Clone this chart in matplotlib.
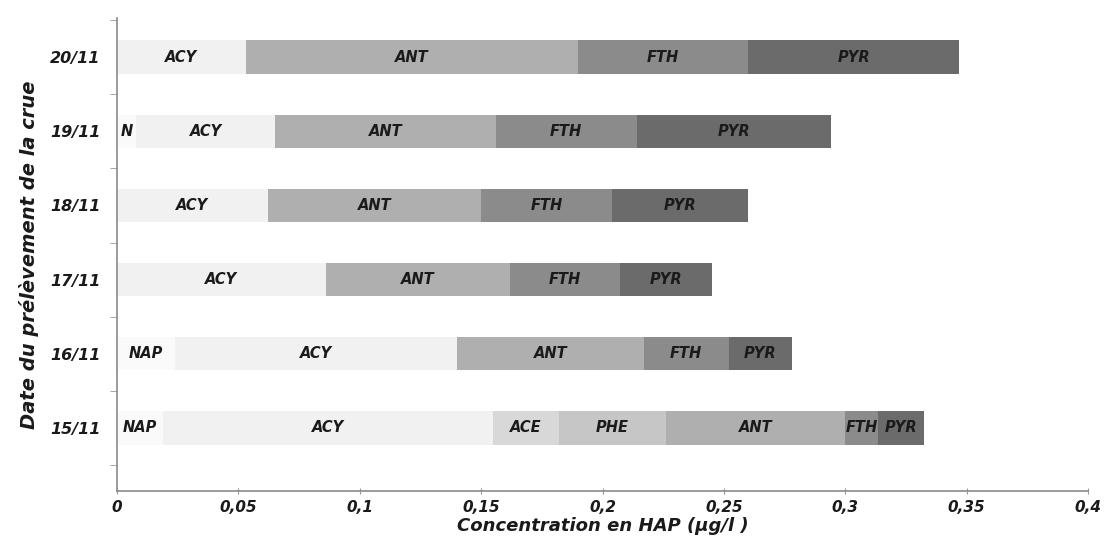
import numpy as np
import matplotlib.pyplot as plt

plt.rcParams['font.family'] = ['DejaVu Sans']

# Dates (bottom to top) and HAP contributions (µg/l)
dates = ['15/11', '16/11', '17/11', '18/11', '19/11', '20/11']
compounds = ['NAP', 'ACY', 'ACE', 'PHE', 'ANT', 'FTH', 'PYR']
NAP = [0.019, 0.024, 0.0, 0.0, 0.008, 0.0]
ACY = [0.136, 0.116, 0.086, 0.062, 0.057, 0.053]
ACE = [0.027, 0.0, 0.0, 0.0, 0.0, 0.0]
PHE = [0.044, 0.0, 0.0, 0.0, 0.0, 0.0]
ANT = [0.074, 0.077, 0.076, 0.088, 0.091, 0.137]
FTH = [0.0135, 0.035, 0.045, 0.054, 0.058, 0.070]
PYR = [0.019, 0.026, 0.038, 0.056, 0.080, 0.087]
# short label used where a segment is too narrow
short_labels = {('NAP', '19/11'): 'N'}

series = [NAP, ACY, ACE, PHE, ANT, FTH, PYR]
colors = ['#fafafa', '#f1f1f1', '#d8d8d8', '#c6c6c6', '#afafaf', '#8b8b8b', '#6b6b6b']

fig = plt.figure(figsize=(11.06, 5.37), dpi=100)
ax = fig.add_axes([0.1058, 0.0857, 0.878, 0.881])

y = np.arange(len(dates))
left = np.zeros(len(dates))
for name, vals, col in zip(compounds, series, colors):
    vals = np.array(vals)
    ax.barh(y, vals, left=left, height=0.45, color=col, edgecolor='none')
    for i, v in enumerate(vals):
        if v > 0:
            lab = short_labels.get((name, dates[i]), name)
            ax.text(left[i] + v / 2, y[i], lab, ha='center', va='center',
                    fontsize=10.5, fontweight='bold', style='italic', color='#1a1a1a')
    left += vals

ax.set_xlim(0, 0.4)
ax.set_ylim(-0.85, 5.53)
xt = np.arange(0, 0.401, 0.05)
ax.set_xticks(xt)
ax.set_xticklabels([('%g' % t).replace('.', ',') for t in xt],
                   fontsize=11, fontweight='bold', style='italic', color='#1a1a1a')
ax.set_yticks(y)
ax.set_yticklabels(dates, fontsize=11.5, fontweight='bold', style='italic', color='#1a1a1a')
ax.set_yticks(np.arange(-0.5, 6, 1), minor=True)
ax.tick_params(axis='y', which='major', length=0, pad=12)
ax.tick_params(axis='y', which='minor', length=5, direction='out', color='#999999')
ax.tick_params(axis='x', length=5, direction='inout', color='#999999', pad=4)

for s in ['top', 'right']:
    ax.spines[s].set_visible(False)
for s in ['left', 'bottom']:
    ax.spines[s].set_color('#8a8a8a')
    ax.spines[s].set_linewidth(1.2)

fig.text(0.545, 0.004, 'Concentration en HAP (µg/l )', ha='center', va='bottom',
         fontsize=13, fontweight='bold', style='italic', color='#1a1a1a')
ax.set_ylabel('Date du prélèvement de la crue', fontsize=14, fontweight='bold',
              style='italic', color='#1a1a1a', labelpad=8)

fig.savefig('out.png', dpi=100)
